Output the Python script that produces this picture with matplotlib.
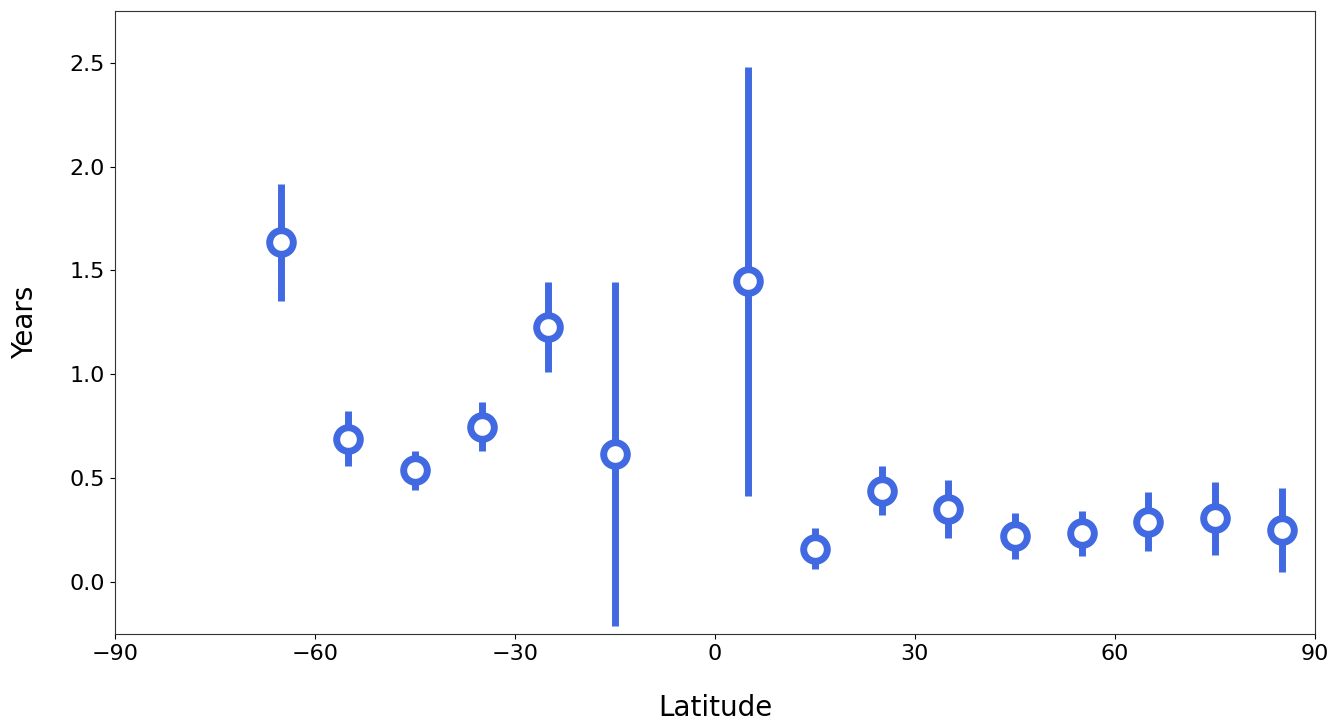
import matplotlib
matplotlib.use('Agg')
import matplotlib.pyplot as plt
import numpy as np

# latitude band centres and estimated years
latitude = [-65, -55, -45, -35, -25, -15, 5, 15, 25, 35, 45, 55, 65, 75, 85]
years = [1.635, 0.688, 0.538, 0.745, 1.226, 0.615, 1.447, 0.159, 0.4375,
         0.351, 0.221, 0.236, 0.288, 0.308, 0.250]
upper = [1.918, 0.822, 0.630, 0.865, 1.442, 1.442, 2.481, 0.260, 0.558,
         0.490, 0.332, 0.341, 0.433, 0.481, 0.452]
lower = [1.351, 0.558, 0.442, 0.630, 1.010, -0.212, 0.413, 0.0625, 0.322,
         0.212, 0.111, 0.125, 0.149, 0.130, 0.048]


def plot_years_by_latitude():
    fig = plt.figure(figsize=(13.35, 7.22), dpi=100)
    ax = fig.add_axes([0.086, 0.122, 0.899, 0.863])

    y = np.array(years)
    yerr = [y - np.array(lower), np.array(upper) - y]

    ax.errorbar(latitude, y, yerr=yerr, fmt='o', color='royalblue',
                ecolor='royalblue', elinewidth=5, capsize=0,
                markersize=17, markeredgewidth=5, markerfacecolor='white',
                markeredgecolor='royalblue')

    ax.set_xlim(-90, 90)
    ax.set_ylim(-0.25, 2.75)
    ax.set_xticks(np.arange(-90, 91, 30))
    ax.set_yticks(np.arange(0, 2.51, 0.5))
    ax.tick_params(labelsize=16)

    ax.set_xlabel('Latitude', fontsize=20, labelpad=22)
    ax.set_ylabel('Years', fontsize=20, labelpad=22)

    for spine in ax.spines.values():
        spine.set_color('#333333')

    fig.savefig('out.png', dpi=100)


if __name__ == "__main__":
    plot_years_by_latitude()
